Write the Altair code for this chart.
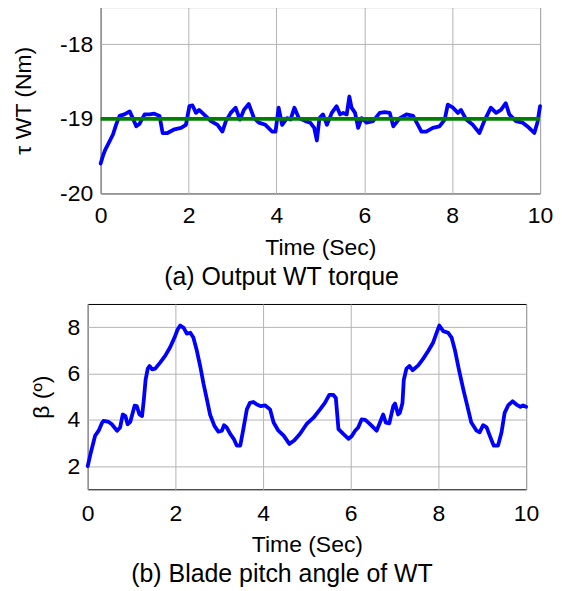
import altair as alt
import pandas as pd

# ---------------- data ----------------
torque_time = [0.00, 0.05, 0.10, 0.17, 0.28, 0.35, 0.43, 0.54, 0.66, 0.73,
               0.81, 0.88, 1.00, 1.11, 1.22, 1.34, 1.41, 1.52, 1.68, 1.83,
               1.94, 2.02, 2.09, 2.17, 2.24, 2.35, 2.51, 2.66, 2.77, 2.85,
               2.96, 3.07, 3.17, 3.26, 3.37, 3.49, 3.60, 3.75, 3.90, 3.98,
               4.05, 4.13, 4.24, 4.32, 4.41, 4.51, 4.66, 4.77, 4.86, 4.92,
               4.98, 5.06, 5.15, 5.26, 5.37, 5.45, 5.52, 5.60, 5.66, 5.71,
               5.79, 5.86, 5.94, 6.05, 6.20, 6.35, 6.47, 6.58, 6.66, 6.81,
               6.96, 7.11, 7.22, 7.30, 7.41, 7.56, 7.71, 7.83, 7.90, 8.02,
               8.13, 8.20, 8.32, 8.47, 8.62, 8.73, 8.88, 9.00, 9.11, 9.22,
               9.30, 9.45, 9.60, 9.75, 9.87, 9.94, 10.0]
torque_value = [-19.60, -19.50, -19.42, -19.34, -19.21, -19.08, -18.96, -18.94, -18.90, -18.99,
                -19.10, -19.07, -18.94, -18.94, -18.93, -18.96, -19.19, -19.19, -19.14, -19.12,
                -19.08, -18.83, -18.82, -18.92, -18.88, -18.94, -19.03, -19.08, -19.17, -19.03,
                -18.92, -18.85, -19.01, -18.88, -18.80, -18.99, -19.05, -19.08, -19.17, -19.17,
                -18.85, -19.08, -18.99, -19.01, -18.85, -18.99, -19.03, -19.05, -19.12, -19.29,
                -18.99, -18.94, -19.08, -18.92, -18.83, -18.94, -18.92, -18.94, -18.70, -18.85,
                -18.92, -19.12, -18.99, -19.05, -19.03, -18.92, -18.91, -18.92, -19.10, -18.99,
                -18.94, -18.96, -19.08, -19.17, -19.17, -19.12, -19.10, -19.01, -18.81, -18.85,
                -18.92, -18.88, -19.01, -19.08, -19.19, -19.03, -18.85, -18.92, -18.88, -18.79,
                -18.94, -19.03, -19.05, -19.12, -19.19, -19.05, -18.83]

ref_time = [0.0, 10.0]
ref_value = [-19.0, -19.0]

pitch_time = [0.00, 0.06, 0.17, 0.25, 0.33, 0.36, 0.48, 0.55, 0.67, 0.74,
              0.80, 0.86, 0.91, 0.97, 1.07, 1.12, 1.18, 1.24, 1.28, 1.32,
              1.37, 1.41, 1.47, 1.54, 1.66, 1.77, 1.88, 1.98, 2.05, 2.11,
              2.19, 2.26, 2.34, 2.41, 2.49, 2.57, 2.64, 2.72, 2.79, 2.89,
              2.98, 3.06, 3.11, 3.17, 3.25, 3.33, 3.40, 3.48, 3.55, 3.63,
              3.70, 3.78, 3.86, 3.95, 4.05, 4.16, 4.24, 4.35, 4.47, 4.60,
              4.71, 4.84, 4.99, 5.15, 5.30, 5.41, 5.51, 5.60, 5.66, 5.72,
              5.83, 5.95, 6.02, 6.10, 6.17, 6.25, 6.33, 6.44, 6.59, 6.68,
              6.74, 6.80, 6.88, 6.97, 7.01, 7.08, 7.12, 7.18, 7.21, 7.27,
              7.34, 7.41, 7.54, 7.65, 7.77, 7.88, 7.96, 8.02, 8.11, 8.22,
              8.30, 8.38, 8.47, 8.57, 8.66, 8.75, 8.87, 8.94, 9.02, 9.10,
              9.17, 9.26, 9.36, 9.44, 9.51, 9.59, 9.69, 9.78, 9.87, 9.93,
              10.0]
pitch_value = [2.00, 2.50, 3.32, 3.53, 3.88, 3.95, 3.91, 3.81, 3.53, 3.67,
               4.23, 4.16, 3.81, 3.91, 4.61, 4.59, 4.23, 4.16, 4.87, 5.72,
               6.21, 6.32, 6.18, 6.21, 6.49, 6.77, 7.13, 7.55, 7.90, 8.07,
               7.97, 7.72, 7.76, 7.55, 6.98, 6.28, 5.57, 4.87, 4.23, 3.74,
               3.49, 3.53, 3.77, 3.67, 3.39, 3.18, 2.89, 2.89, 3.60, 4.45,
               4.73, 4.77, 4.66, 4.59, 4.62, 4.45, 3.88, 3.53, 3.32, 2.96,
               3.11, 3.39, 3.81, 4.09, 4.45, 4.73, 5.08, 5.08, 4.94, 3.60,
               3.39, 3.18, 3.29, 3.53, 3.67, 4.02, 4.00, 3.81, 3.53, 3.95,
               4.23, 3.88, 3.85, 4.59, 4.70, 4.23, 4.30, 4.73, 5.72, 6.21,
               6.32, 6.14, 6.35, 6.63, 6.98, 7.34, 7.76, 8.07, 7.83, 7.76,
               7.55, 6.98, 6.14, 5.29, 4.59, 3.88, 3.53, 3.46, 3.77, 3.67,
               3.32, 2.89, 2.89, 3.46, 4.30, 4.62, 4.80, 4.66, 4.56, 4.62,
               4.56]

x_ticks = [0, 2, 4, 6, 8, 10]
torque_ticks = [-20, -19, -18]
pitch_ticks = [2, 4, 6, 8]

x_title = "Time (Sec)"
torque_title = "τ WT (Nm)"
pitch_title = "β (º)"
caption_a = "(a) Output WT torque"
caption_b = "(b) Blade pitch angle of WT"

FONT = "Liberation Sans"
BLUE = "#0000FF"
GREEN = "#008000"

torque_df = pd.DataFrame({"t": torque_time, "v": torque_value})
ref_df = pd.DataFrame({"t": ref_time, "v": ref_value})
pitch_df = pd.DataFrame({"t": pitch_time, "v": pitch_value})

LABEL_EXPR = "'' + datum.value"


def x_enc(label_pad, title_pad):
    return alt.X("t:Q", scale=alt.Scale(domain=[0, 10], nice=False, zero=False),
                 axis=alt.Axis(values=x_ticks, title=x_title, labelPadding=label_pad,
                               titlePadding=title_pad, labelFlush=False,
                               labelExpr=LABEL_EXPR))


def y_enc(domain, ticks, title, title_pad):
    return alt.Y("v:Q", scale=alt.Scale(domain=domain, nice=False, zero=False),
                 axis=alt.Axis(values=ticks, title=title, labelPadding=8,
                               titlePadding=title_pad, labelFlush=False,
                               labelExpr=LABEL_EXPR))


line_style = dict(strokeWidth=3.8, strokeCap="round", strokeJoin="round")

top_x = x_enc(11, 9)
top_y = y_enc([-20, -17.5], torque_ticks, torque_title, 24)
top_blue = alt.Chart(torque_df).mark_line(color=BLUE, **line_style).encode(x=top_x, y=top_y)
top_green = alt.Chart(ref_df).mark_line(color=GREEN, strokeWidth=3.8).encode(x=top_x, y=top_y)
top = alt.layer(top_blue, top_green).properties(
    width=441, height=187,
    title=alt.TitleParams(caption_a, orient="bottom", anchor="middle", dx=-39,
                          offset=6, fontSize=25, font=FONT, fontWeight="normal",
                          color="black"))

spacer = alt.Chart(pd.DataFrame({"s": [0]})).mark_point(opacity=0, size=0, strokeWidth=0).encode(
    x=alt.value(6), y=alt.value(50)).properties(
    width=13, height=100, view=alt.ViewBackground(stroke="transparent"))

top_row = alt.hconcat(spacer, top, spacing=0, bounds="flush")

bot_x = x_enc(13, 8)
bot_y = y_enc([1, 9], pitch_ticks, pitch_title, 14)
bottom = alt.Chart(pitch_df).mark_line(color=BLUE, **line_style).encode(
    x=bot_x, y=bot_y).properties(
    width=440, height=186,
    title=alt.TitleParams(caption_b, orient="bottom", anchor="middle", dx=-25,
                          offset=6, fontSize=25, font=FONT, fontWeight="normal",
                          color="black"))

chart = alt.vconcat(top_row, bottom, spacing=12).properties(
    padding={"left": 4, "top": -3, "right": 0, "bottom": 2},
    background="white",
).configure_view(
    stroke="black", strokeWidth=1
).configure_axis(
    labelFont=FONT, titleFont=FONT, labelFontSize=23, titleFontSize=23,
    labelColor="black", titleColor="black", titleFontWeight="normal",
    ticks=False, domain=False, grid=True, gridColor="#b4b4b4", gridWidth=1,
)

chart.save("out.html", embed_options={"renderer": "svg", "actions": False})
